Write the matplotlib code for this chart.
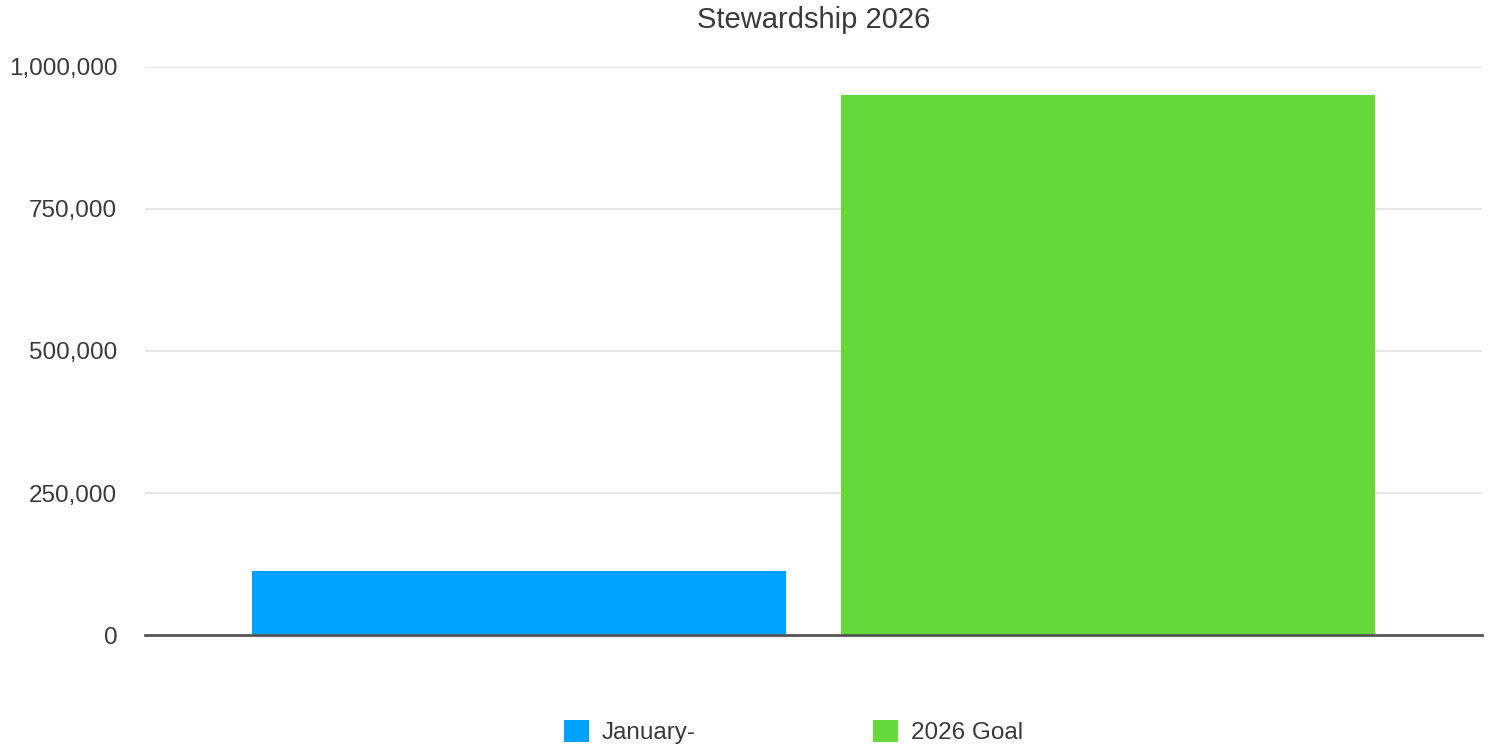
import numpy as np
import matplotlib.pyplot as plt
from matplotlib.ticker import FuncFormatter

series = ["January-", "2026 Goal"]
values = [113000, 950000]
colors = ["#00a2ff", "#65d93a"]
yticks = [0, 250000, 500000, 750000, 1000000]

plt.rcParams['font.family'] = ['Liberation Sans', 'DejaVu Sans']

fig = plt.figure(figsize=(14.91, 7.5), dpi=100)
ax = fig.add_axes([0.0973, 0.1533, 0.8967, 0.7574])

x = np.arange(len(series))
for i in range(len(series)):
    ax.bar(x[i], values[i], width=0.907, color=colors[i], label=series[i], zorder=2)

ax.set_xlim(-0.635, 1.635)
ax.set_ylim(0, 1000000)
ax.set_yticks(yticks)
ax.yaxis.set_major_formatter(FuncFormatter(lambda v, p: f"{int(v):,}"))
ax.set_xticks([])
ax.grid(axis='y', color='#e3e3e3', linewidth=1.2, zorder=0)
ax.tick_params(axis='y', length=0, labelsize=17.5, labelcolor='#3a3a3a', pad=20)
for s in ['top', 'right', 'left']:
    ax.spines[s].set_visible(False)
ax.spines['bottom'].set_color('#555555')
ax.spines['bottom'].set_linewidth(2)
ax.spines['bottom'].set_zorder(3)

ax.set_title("Stewardship 2026", fontsize=21, color='#3a3a3a', pad=28)

fig.legend(loc='center', bbox_to_anchor=(0.532, 0.024), ncol=2, frameon=False,
           fontsize=17.5, handlelength=1.05, handleheight=1.05, columnspacing=7.3,
           labelcolor='#3a3a3a', handletextpad=0.5)

fig.savefig("out.png", dpi=100)
